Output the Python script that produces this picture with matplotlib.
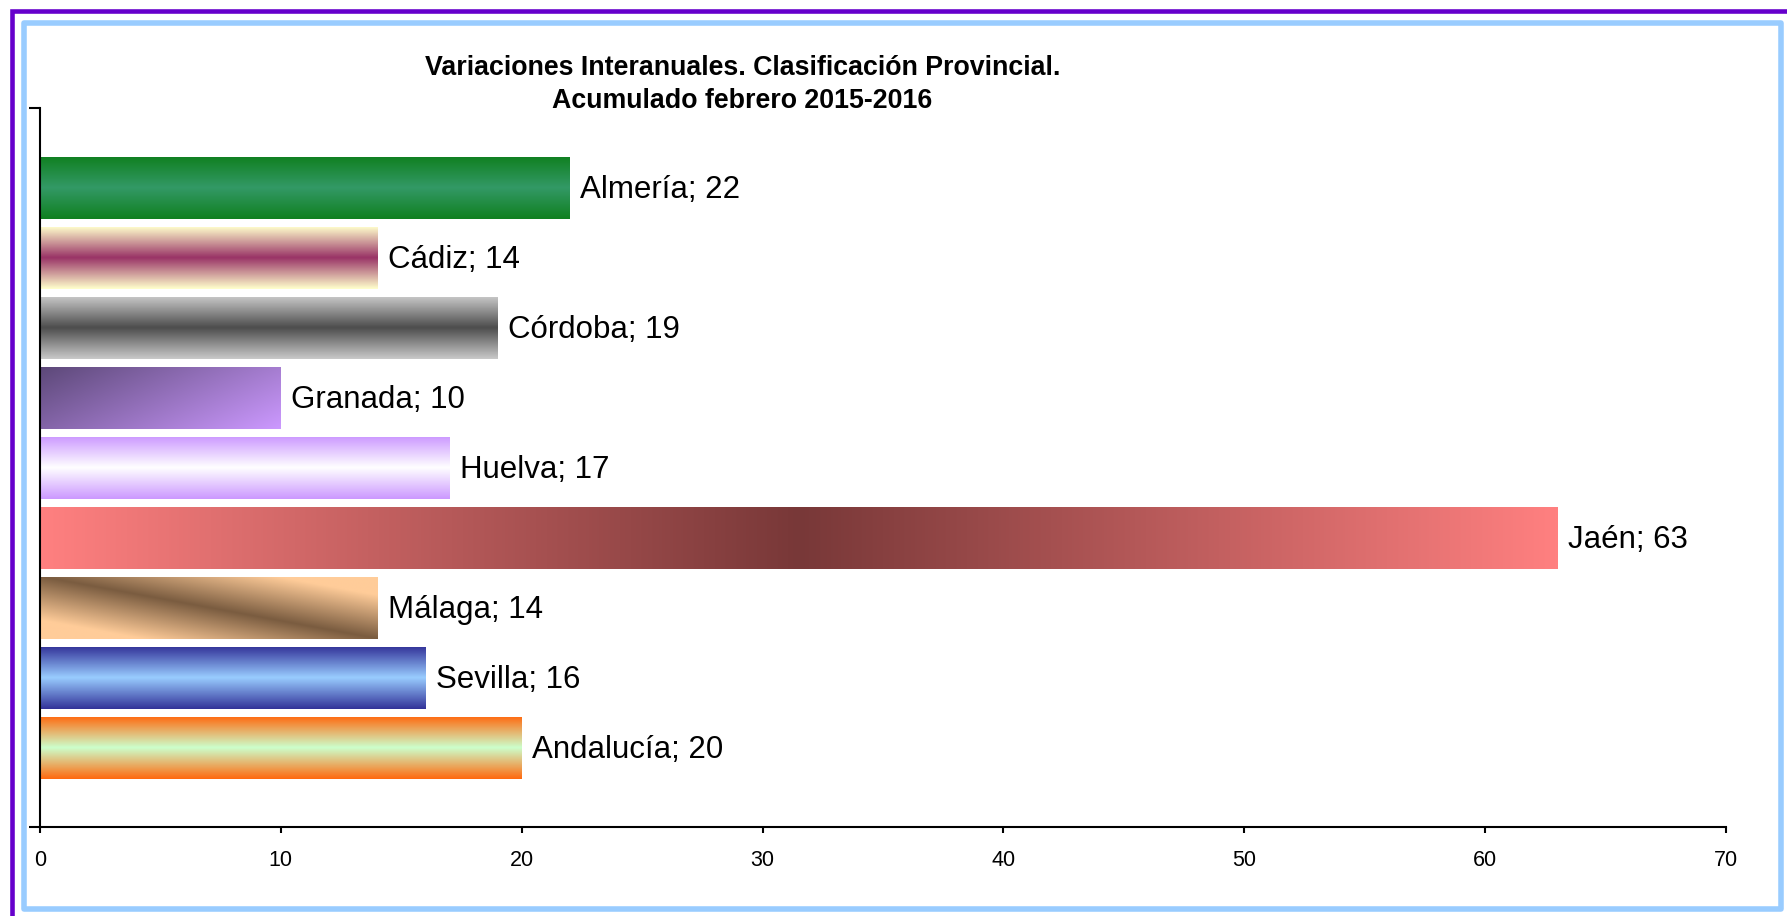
import numpy as np
import matplotlib.pyplot as plt
from matplotlib.colors import to_rgb
from matplotlib.patches import Rectangle

plt.rcParams['font.family'] = ['Liberation Sans', 'DejaVu Sans']

# Data
provincias = ['Almería', 'Cádiz', 'Córdoba', 'Granada', 'Huelva',
              'Jaén', 'Málaga', 'Sevilla', 'Andalucía']
valores = [22, 14, 19, 10, 17, 63, 14, 16, 20]

# Gradient fill of each bar: (kind, colour at 0, colour at 1)
rellenos = [
    ('vertical', '#108020', '#339966'),
    ('vertical', '#FFFFCC', '#993366'),
    ('vertical', '#C8C8C8', '#4D4D4D'),
    ('diagonal', '#5C4878', '#CC99FF'),
    ('vertical', '#CC99FF', '#FFFFFF'),
    ('horizontal', '#FF8080', '#783838'),
    ('banda', '#7A5C40', '#FFCC99'),
    ('vertical', '#333399', '#99CCFF'),
    ('vertical', '#FF6A10', '#CCFFCC'),
]


def gradiente(kind, c0, c1, nx=300, ny=80):
    """Return an (ny, nx, 3) array with the requested gradient."""
    a = np.array(to_rgb(c0))
    b = np.array(to_rgb(c1))
    u, v = np.meshgrid(np.linspace(0, 1, nx), np.linspace(0, 1, ny))
    if kind == 'vertical':
        t = 1 - np.abs(2 * v - 1)          # edges -> c0, middle -> c1
    elif kind == 'horizontal':
        t = 1 - np.abs(2 * u - 1)          # ends -> c0, middle -> c1
    elif kind == 'diagonal':
        t = 0.65 * u + 0.35 * v
    else:  # dark band along the diagonal
        t = np.clip(np.abs(v - u) / 0.7, 0, 1)
    return a[None, None, :] + (b - a)[None, None, :] * t[..., None]


fig = plt.figure(figsize=(17.87, 9.16), dpi=100)
W, H = 1787, 916

# frames around the chart
fig.patches.append(Rectangle((12 / W, -0.05), 1.1, 1 - 11 / H + 0.05,
                             transform=fig.transFigure, fill=False,
                             edgecolor='#6600CC', linewidth=3.3, zorder=0))
fig.patches.append(Rectangle((23.5 / W, 1 - 908.5 / H), (1780.5 - 23.5) / W,
                             (908.5 - 22.5) / H, transform=fig.transFigure,
                             fill=False, edgecolor='#99CCFF', linewidth=4,
                             joinstyle='round', zorder=0))

ax = fig.add_axes([40 / W, 1 - 826.7 / H, (1726 - 40) / W, (826.7 - 108) / H])
ax.patch.set_alpha(0)

y = np.arange(len(provincias))
barras = ax.barh(y, valores, height=0.886, color='none', edgecolor='none')

for barra, (kind, c0, c1) in zip(barras, rellenos):
    x0, y0 = barra.get_x(), barra.get_y()
    w, h = barra.get_width(), barra.get_height()
    img = gradiente(kind, c0, c1)
    im = ax.imshow(img, extent=(x0, x0 + w, y0 + h, y0), origin='upper',
                   aspect='auto', interpolation='bilinear', zorder=2)
    im.set_clip_path(barra)

for yi, nombre, val in zip(y, provincias, valores):
    ax.annotate(f'{nombre}; {val}', xy=(val, yi), xytext=(7.5, -1.5),
                textcoords='offset points', va='center', ha='left',
                fontsize=22.5, color='black')

ax.set_xlim(0, 70)
ax.set_ylim(9.124, -1.143)
ax.set_xticks(range(0, 71, 10))
ax.set_yticks([9.124, -1.143])
ax.set_yticklabels([])

for s in ['top', 'right']:
    ax.spines[s].set_visible(False)
for s in ['left', 'bottom']:
    ax.spines[s].set_linewidth(1.5)
ax.tick_params(axis='x', direction='out', length=4.5, width=1.5,
               labelsize=15.5, pad=12)
ax.tick_params(axis='y', direction='out', length=8, width=1.5)

fig.text(742.5 / W, 1 - 84.5 / H,
         'Variaciones Interanuales. Clasificación Provincial.\nAcumulado febrero 2015-2016',
         ha='center', va='center', fontsize=19.3, fontweight='bold',
         linespacing=1.38)

fig.savefig('out.png', dpi=100)
